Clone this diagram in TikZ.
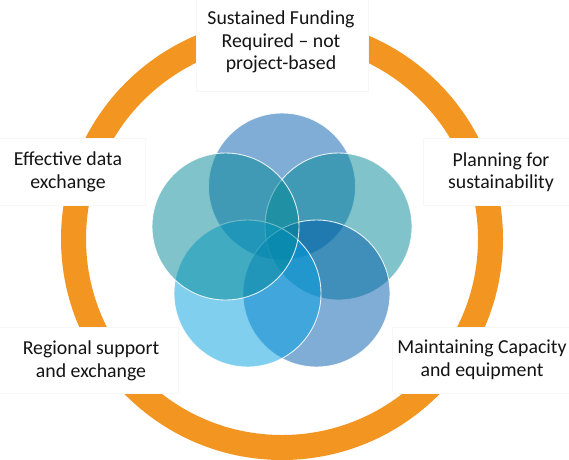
\documentclass[tikz,border=0pt]{standalone}
\usepackage{fontspec}
\setmainfont{Carlito}
\definecolor{ringorange}{RGB}{243,150,33}
\definecolor{cblue}{RGB}{2,92,172}
\definecolor{cteal}{RGB}{2,136,150}
\definecolor{clight}{RGB}{4,160,225}
\definecolor{txt}{RGB}{20,20,20}
\begin{document}
\begin{tikzpicture}[x=1pt,y=-1pt,
  petal/.style={circle, inner sep=0pt, minimum size=147pt, fill opacity=0.5, draw=white, draw opacity=0.85, line width=0.9pt},
  cover/.style={fill=white, draw=black!3, line width=0.4pt},
  lbl/.style={text=txt, align=center, font=\fontsize{19.8}{22.5}\selectfont, inner sep=0pt}]
\useasboundingbox (0,0) rectangle (569,459);
\fill[white] (0,0) rectangle (569,459);
% ring
\coordinate (c) at (282,239);
\draw[ringorange, line width=25pt] (c) circle[radius=208.5pt];
% white covers
\draw[cover] (196,-1) rectangle (368,91);
\draw[cover] (-1,138) rectangle (145,205);
\draw[cover] (423,138) rectangle (570,205);
\draw[cover] (-1,327) rectangle (178,393);
\draw[cover] (392,327) rectangle (570,393);
% labels
\node[lbl] (top) at (281,42) {Sustained Funding\\Required – not\\project-based};
\node[lbl] (eff) at (68,172) {Effective data\\exchange};
\node[lbl] (plan) at (501,172) {Planning for\\sustainability};
\node[lbl] (reg) at (91,361) {Regional support\\and exchange};
\node[lbl] (mnt) at (482,360) {Maintaining Capacity\\and equipment};
% petals
\node[petal, fill=cblue] (p1) at (282,186.5) {};
\node[petal, fill=cteal] (p2) at (338.5,226.5) {};
\node[petal, fill=cblue] (p3) at (316.5,293.5) {};
\node[petal, fill=clight] (p4) at (247.5,293.5) {};
\node[petal, fill=cteal] (p5) at (225.5,226.5) {};
\end{tikzpicture}
\end{document}
